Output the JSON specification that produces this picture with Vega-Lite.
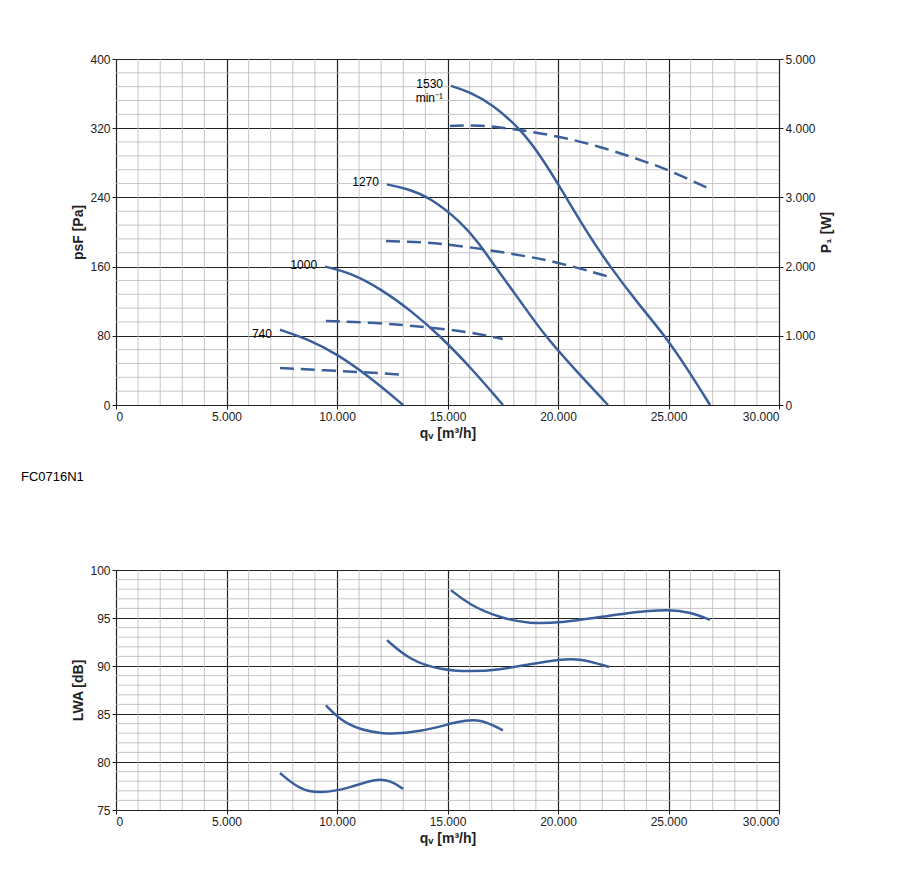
{
  "$schema": "https://vega.github.io/schema/vega-lite/v6.json",
  "padding": {"left": 20, "top": 52, "right": 10, "bottom": 5},
  "background": "white",
  "spacing": 78,
  "datasets": {
    "pressure": [
      {"speed": "1530", "q": 15160, "p": 369},
      {"speed": "1530", "q": 16000, "p": 362},
      {"speed": "1530", "q": 17000, "p": 348},
      {"speed": "1530", "q": 18280, "p": 320},
      {"speed": "1530", "q": 19300, "p": 285},
      {"speed": "1530", "q": 20300, "p": 243},
      {"speed": "1530", "q": 21300, "p": 200},
      {"speed": "1530", "q": 22350, "p": 160},
      {"speed": "1530", "q": 23600, "p": 118},
      {"speed": "1530", "q": 24840, "p": 80},
      {"speed": "1530", "q": 25900, "p": 40},
      {"speed": "1530", "q": 26880, "p": 0},
      {"speed": "1270", "q": 12260, "p": 255},
      {"speed": "1270", "q": 13200, "p": 250},
      {"speed": "1270", "q": 14200, "p": 240},
      {"speed": "1270", "q": 15600, "p": 212},
      {"speed": "1270", "q": 16400, "p": 188},
      {"speed": "1270", "q": 17150, "p": 160},
      {"speed": "1270", "q": 18300, "p": 120},
      {"speed": "1270", "q": 19400, "p": 80},
      {"speed": "1270", "q": 20800, "p": 40},
      {"speed": "1270", "q": 22260, "p": 0},
      {"speed": "1000", "q": 9460, "p": 160},
      {"speed": "1000", "q": 10600, "p": 153},
      {"speed": "1000", "q": 12000, "p": 134},
      {"speed": "1000", "q": 13400, "p": 108},
      {"speed": "1000", "q": 14660, "p": 80},
      {"speed": "1000", "q": 16100, "p": 42},
      {"speed": "1000", "q": 17510, "p": 0},
      {"speed": "740", "q": 7420, "p": 87},
      {"speed": "740", "q": 8700, "p": 76},
      {"speed": "740", "q": 10000, "p": 59},
      {"speed": "740", "q": 11500, "p": 32},
      {"speed": "740", "q": 12990, "p": 0}
    ],
    "power": [
      {"speed": "1530", "q": 15110, "w": 4032},
      {"speed": "1530", "q": 16500, "w": 4046},
      {"speed": "1530", "q": 18000, "w": 3988},
      {"speed": "1530", "q": 20000, "w": 3887},
      {"speed": "1530", "q": 22000, "w": 3728},
      {"speed": "1530", "q": 24000, "w": 3512},
      {"speed": "1530", "q": 25000, "w": 3396},
      {"speed": "1530", "q": 26880, "w": 3121},
      {"speed": "1270", "q": 12220, "w": 2370},
      {"speed": "1270", "q": 14000, "w": 2355},
      {"speed": "1270", "q": 16000, "w": 2283},
      {"speed": "1270", "q": 18000, "w": 2182},
      {"speed": "1270", "q": 20000, "w": 2066},
      {"speed": "1270", "q": 22330, "w": 1850},
      {"speed": "1000", "q": 9500, "w": 1214},
      {"speed": "1000", "q": 12000, "w": 1185},
      {"speed": "1000", "q": 14000, "w": 1127},
      {"speed": "1000", "q": 16000, "w": 1055},
      {"speed": "1000", "q": 17500, "w": 954},
      {"speed": "740", "q": 7420, "w": 535},
      {"speed": "740", "q": 10000, "w": 491},
      {"speed": "740", "q": 12000, "w": 462},
      {"speed": "740", "q": 12990, "w": 434}
    ],
    "labels": [
      {"speed": "1530", "label": ["1530", "min⁻¹"], "q": 15160, "p": 369},
      {"speed": "1270", "label": ["1270"], "q": 12260, "p": 255},
      {"speed": "1000", "label": ["1000"], "q": 9460, "p": 160},
      {"speed": "740", "label": ["740"], "q": 7420, "p": 80}
    ],
    "sound": [
      {"speed": "1530", "q": 15160, "l": 97.9},
      {"speed": "1530", "q": 16000, "l": 96.35},
      {"speed": "1530", "q": 17380, "l": 95.0},
      {"speed": "1530", "q": 18730, "l": 94.4},
      {"speed": "1530", "q": 20090, "l": 94.5},
      {"speed": "1530", "q": 21900, "l": 95.1},
      {"speed": "1530", "q": 23710, "l": 95.7},
      {"speed": "1530", "q": 25000, "l": 95.9},
      {"speed": "1530", "q": 26000, "l": 95.6},
      {"speed": "1530", "q": 26880, "l": 94.8},
      {"speed": "1270", "q": 12260, "l": 92.7},
      {"speed": "1270", "q": 13300, "l": 90.6},
      {"speed": "1270", "q": 14660, "l": 89.6},
      {"speed": "1270", "q": 16000, "l": 89.4},
      {"speed": "1270", "q": 17380, "l": 89.6},
      {"speed": "1270", "q": 18730, "l": 90.2},
      {"speed": "1270", "q": 20090, "l": 90.7},
      {"speed": "1270", "q": 21000, "l": 90.8},
      {"speed": "1270", "q": 22310, "l": 89.9},
      {"speed": "1000", "q": 9500, "l": 85.9},
      {"speed": "1000", "q": 10360, "l": 83.85},
      {"speed": "1000", "q": 11950, "l": 82.8},
      {"speed": "1000", "q": 13760, "l": 83.1},
      {"speed": "1000", "q": 15570, "l": 84.3},
      {"speed": "1000", "q": 16470, "l": 84.5},
      {"speed": "1000", "q": 17510, "l": 83.3},
      {"speed": "740", "q": 7420, "l": 78.85},
      {"speed": "740", "q": 8330, "l": 77.1},
      {"speed": "740", "q": 9230, "l": 76.7},
      {"speed": "740", "q": 10590, "l": 77.3},
      {"speed": "740", "q": 11720, "l": 78.25},
      {"speed": "740", "q": 12400, "l": 78.1},
      {"speed": "740", "q": 12990, "l": 77.2}
    ],
    "xminor": [
      {"v": 1000}, {"v": 2000}, {"v": 3000}, {"v": 4000},
      {"v": 6000}, {"v": 7000}, {"v": 8000}, {"v": 9000},
      {"v": 11000}, {"v": 12000}, {"v": 13000}, {"v": 14000},
      {"v": 16000}, {"v": 17000}, {"v": 18000}, {"v": 19000},
      {"v": 21000}, {"v": 22000}, {"v": 23000}, {"v": 24000},
      {"v": 26000}, {"v": 27000}, {"v": 28000}, {"v": 29000}
    ],
    "pminor": [
      {"v": 16}, {"v": 32}, {"v": 48}, {"v": 64},
      {"v": 96}, {"v": 112}, {"v": 128}, {"v": 144},
      {"v": 176}, {"v": 192}, {"v": 208}, {"v": 224},
      {"v": 256}, {"v": 272}, {"v": 288}, {"v": 304},
      {"v": 336}, {"v": 352}, {"v": 368}, {"v": 384}
    ],
    "lminor": [
      {"v": 76}, {"v": 77}, {"v": 78}, {"v": 79},
      {"v": 81}, {"v": 82}, {"v": 83}, {"v": 84},
      {"v": 86}, {"v": 87}, {"v": 88}, {"v": 89},
      {"v": 91}, {"v": 92}, {"v": 93}, {"v": 94},
      {"v": 96}, {"v": 97}, {"v": 98}, {"v": 99}
    ]
  },
  "vconcat": [
    {
      "width": 663,
      "height": 346,
      "title": {"text": "FC0716N1", "orient": "bottom", "anchor": "start", "dx": -51, "fontSize": 13, "fontWeight": "normal", "offset": 31},
      "layer": [
        {
          "layer": [
            {
              "data": {"name": "xminor"},
              "mark": {"type": "rule", "color": "#b8b8b8", "strokeWidth": 0.8},
              "encoding": {"x": {"field": "v", "type": "quantitative", "scale": {"domain": [0, 30000]}}}
            },
            {
              "data": {"name": "pminor"},
              "mark": {"type": "rule", "color": "#b8b8b8", "strokeWidth": 0.8},
              "encoding": {"y": {"field": "v", "type": "quantitative", "scale": {"domain": [0, 400]}}}
            },
            {
              "data": {"name": "pressure"},
              "mark": {"type": "line", "interpolate": "basis", "color": "#3a5f9a", "strokeWidth": 2.5},
              "encoding": {
                "x": {"field": "q", "type": "quantitative", "scale": {"domain": [0, 30000]},
                  "axis": {"values": [0, 5000, 10000, 15000, 20000, 25000, 30000], "title": "qᵥ [m³/h]",
                    "labelExpr": "datum.value == 0 ? '0' : replace(format(datum.value, ','), ',', '.')"}},
                "y": {"field": "p", "type": "quantitative", "scale": {"domain": [0, 400]},
                  "axis": {"values": [0, 80, 160, 240, 320, 400], "title": "psF [Pa]"}},
                "detail": {"field": "speed"}
              }
            },
            {
              "data": {"name": "labels"},
              "mark": {"type": "text", "align": "right", "dx": -8, "dy": -2, "fontSize": 12, "baseline": "middle"},
              "encoding": {
                "x": {"field": "q", "type": "quantitative"},
                "y": {"field": "p", "type": "quantitative"},
                "text": {"field": "label"}
              }
            }
          ]
        },
        {
          "data": {"name": "power"},
          "mark": {"type": "line", "interpolate": "basis", "color": "#3a5f9a", "strokeWidth": 2.5, "strokeDash": [14, 7]},
          "encoding": {
            "x": {"field": "q", "type": "quantitative"},
            "y": {"field": "w", "type": "quantitative", "scale": {"domain": [0, 5000]},
              "axis": {"orient": "right", "values": [0, 1000, 2000, 3000, 4000, 5000], "title": "P₁ [W]", "titleAngle": 270, "titlePadding": 18, "grid": false,
                "labelExpr": "datum.value == 0 ? '0' : replace(format(datum.value, ','), ',', '.')"}},
            "detail": {"field": "speed"}
          }
        }
      ],
      "resolve": {"scale": {"y": "independent"}}
    },
    {
      "width": 663,
      "height": 240,
      "layer": [
        {
          "data": {"name": "xminor"},
          "mark": {"type": "rule", "color": "#b8b8b8", "strokeWidth": 0.8},
          "encoding": {"x": {"field": "v", "type": "quantitative", "scale": {"domain": [0, 30000]}}}
        },
        {
          "data": {"name": "lminor"},
          "mark": {"type": "rule", "color": "#b8b8b8", "strokeWidth": 0.8},
          "encoding": {"y": {"field": "v", "type": "quantitative", "scale": {"domain": [75, 100]}}}
        },
        {
          "data": {"name": "sound"},
          "mark": {"type": "line", "interpolate": "basis", "color": "#3a5f9a", "strokeWidth": 2.5},
          "encoding": {
            "x": {"field": "q", "type": "quantitative", "scale": {"domain": [0, 30000]},
              "axis": {"values": [0, 5000, 10000, 15000, 20000, 25000, 30000], "title": "qᵥ [m³/h]",
                "labelExpr": "datum.value == 0 ? '0' : replace(format(datum.value, ','), ',', '.')"}},
            "y": {"field": "l", "type": "quantitative", "scale": {"domain": [75, 100]},
              "axis": {"values": [75, 80, 85, 90, 95, 100], "title": "LWA [dB]"}},
            "detail": {"field": "speed"}
          }
        }
      ]
    }
  ],
  "config": {
    "font": "Liberation Sans",
    "view": {"stroke": "#222", "strokeWidth": 1},
    "axis": {
      "gridColor": "#222",
      "gridWidth": 1.2,
      "domain": false,
      "tickColor": "#222",
      "tickSize": 4,
      "labelFontSize": 12,
      "labelColor": "#222",
      "titleFontSize": 14,
      "titleColor": "#222",
      "titleFontWeight": "bold"
    }
  }
}
